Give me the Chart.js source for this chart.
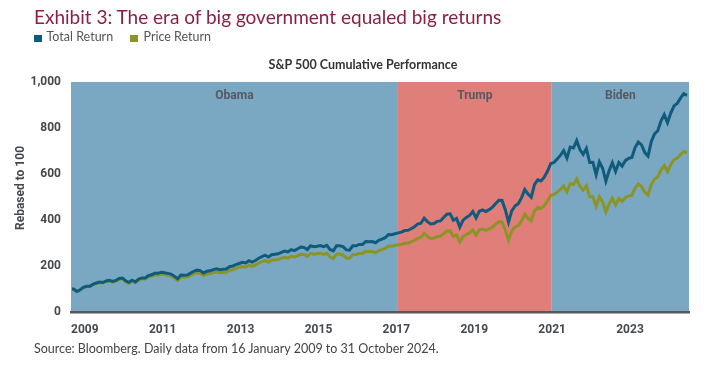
<!DOCTYPE html>
<html>
<head>
<meta charset="utf-8">
<script src="https://cdn.jsdelivr.net/npm/chart.js@4.4.1/dist/chart.umd.min.js"></script>
<style>
  html, body { margin: 0; padding: 0; background: #ffffff; }
  #wrap { position: relative; width: 704px; height: 380px; overflow: hidden;
          font-family: 'Lato', 'Roboto', sans-serif; }
  #chart { position: absolute; left: 0; top: 0; }
  #title { position: absolute; left: 34px; top: 6.3px; font-size: 19px; line-height: 1.2;
           color: #8c1f46; white-space: nowrap; }
  .sw { position: absolute; top: 35px; width: 8px; height: 7px; }
  .lg { position: absolute; top: 29.2px; font-size: 12.5px; line-height: 1.2; color: #555; white-space: nowrap; }
  #sub { position: absolute; left: 0; width: 726px; text-align: center; top: 57px;
         font-family: 'Lato', 'Roboto', sans-serif; font-weight: bold; font-size: 12.5px; line-height: 16px; color: #333; }
  #src { position: absolute; left: 34px; top: 341px; font-size: 12.5px; line-height: 1.2; color: #444; white-space: nowrap; }
</style>
</head>
<body>
<div id="wrap">
  <canvas id="chart" width="704" height="380"></canvas>
  <div id="title">Exhibit 3: The era of big government equaled big returns</div>
  <div class="sw" style="left:34px;background:#0f5b7d"></div>
  <div class="lg" style="left:46.5px">Total Return</div>
  <div class="sw" style="left:130px;background:#8b9424"></div>
  <div class="lg" style="left:143.5px">Price Return</div>
  <div id="sub">S&amp;P 500 Cumulative Performance</div>
  <div id="src">Source: Bloomberg. Daily data from 16 January 2009 to 31 October 2024.</div>
</div>
<script>
// S&P 500, rebased to 100 on 16 Jan 2009; first point is 16 Jan 2009, then month-end values to Oct 2024
const priceReturn = [
  100,
  100, 89, 97,106,111,111,120,124,128,126,133,135,   // 2009
  130,134,142,144,132,125,134,127,138,143,143,152,   // 2010
  156,161,161,165,163,160,157,148,137,152,151,152,   // 2011
  159,166,171,169,159,165,167,171,175,171,172,173,   // 2012
  182,184,190,194,198,195,204,198,204,213,219,224,   // 2013
  216,225,227,228,233,238,234,243,239,245,251,250,   // 2014
  242,255,251,253,255,250,255,239,233,252,252,248,   // 2015
  235,234,250,250,254,254,264,263,263,258,267,271,   // 2016
  276,287,286,289,292,294,299,300,305,312,321,324,   // 2017
  342,329,320,321,328,329,341,352,353,329,335,304,   // 2018
  328,337,344,357,334,357,361,355,361,368,381,392,   // 2019
  391,358,313,353,369,376,396,424,408,396,439,455,   // 2020
  450,462,482,507,510,521,533,548,522,558,554,578,   // 2021
  547,530,549,501,501,459,501,479,435,469,495,465,   // 2022
  494,481,498,505,507,539,556,546,520,508,554,578,   // 2023
  587,618,637,610,640,662,669,685,698,692            // 2024
];
const totalReturn = [
  100,
  100, 89, 97,107,112,112,121,126,130,128,135,138,   // 2009
  133,137,146,148,136,129,138,131,143,148,148,158,   // 2010
  162,168,168,173,171,168,165,156,145,161,160,161,   // 2011
  169,177,182,180,170,177,179,184,188,184,186,187,   // 2012
  197,200,206,211,216,213,223,217,224,234,241,247,   // 2013
  239,249,251,253,259,265,261,271,267,275,282,281,   // 2014
  272,288,284,286,289,284,290,272,266,288,288,284,   // 2015
  270,269,288,288,294,294,306,305,306,301,312,317,   // 2016
  323,337,336,340,344,347,354,355,362,371,382,386,   // 2017
  408,393,383,385,394,396,411,425,427,399,407,369,   // 2018
  399,411,420,437,409,438,444,437,445,455,471,486,   // 2019
  485,445,390,440,461,471,496,532,513,499,554,575,   // 2020
  570,586,612,645,650,665,681,702,669,717,713,745,   // 2021
  706,685,711,650,651,597,653,625,569,614,649,611,   // 2022
  650,634,658,668,672,715,739,727,693,678,741,774,   // 2023
  788,831,858,823,865,896,907,930,949,942            // 2024
];
const tickYears = [2009, 2011, 2013, 2015, 2017, 2019, 2021, 2023];
const presidents = ['Obama', 'Trump', 'Biden'];
const termStart = [2009.0, 2017.41, 2021.36];
const termEnd   = [2017.41, 2021.36, 2025.0];
const termColors = ['#7aa8c2', '#e07e79', '#7aa8c2'];
const seriesNames = ['Total Return', 'Price Return'];
const seriesColors = ['#0f5b7d', '#8b9424'];

// x position (decimal year) of each observation
const xOf = i => (i === 0 ? 2009.04 : 2009 + i / 12);
const toPoints = arr => arr.map((v, i) => ({ x: xOf(i), y: v }));
const labelShift = 0.37;

const bandPlugin = {
  id: 'bands',
  beforeDraw(chart) {
    const { ctx, chartArea: a, scales: { x } } = chart;
    ctx.save();
    presidents.forEach((name, i) => {
      const x0 = Math.max(a.left, x.getPixelForValue(termStart[i]));
      const x1 = Math.min(a.right, x.getPixelForValue(termEnd[i]));
      ctx.fillStyle = termColors[i];
      ctx.fillRect(x0, a.top, x1 - x0, a.bottom - a.top);
      ctx.fillStyle = '#555a60';
      ctx.font = 'bold 12px Roboto';
      ctx.textAlign = 'center';
      ctx.textBaseline = 'middle';
      ctx.fillText(name, (x0 + x1) / 2, a.top + 14);
    });
    // y axis title
    ctx.translate(21, 188);
    ctx.rotate(-Math.PI / 2);
    ctx.fillStyle = '#45494e';
    ctx.font = 'bold 12px Roboto';
    ctx.textAlign = 'center';
    ctx.textBaseline = 'middle';
    ctx.fillText('Rebased to 100', 0, 0);
    ctx.restore();
  }
};

new Chart(document.getElementById('chart'), {
  type: 'line',
  data: {
    datasets: [
      { label: seriesNames[0], data: toPoints(totalReturn), borderColor: seriesColors[0],
        borderWidth: 3, pointRadius: 0, tension: 0, fill: false },
      { label: seriesNames[1], data: toPoints(priceReturn), borderColor: seriesColors[1],
        borderWidth: 3, pointRadius: 0, tension: 0, fill: false }
    ]
  },
  options: {
    responsive: false,
    devicePixelRatio: 1,
    animation: false,
    layout: { padding: { left: 0, right: 15, top: 82, bottom: 38 } },
    plugins: { legend: { display: false }, tooltip: { enabled: false }, title: { display: false } },
    scales: {
      x: {
        type: 'linear',
        min: 2009.014,
        max: 2024.885,
        afterFit: s => { s.height = 30; },
        afterBuildTicks: s => { s.ticks = tickYears.map(y => ({ value: y + labelShift })); },
        grid: { display: false, drawTicks: false },
        border: { display: true, color: '#55585c', width: 2.5 },
        ticks: {
          padding: 11,
          autoSkip: false,
          maxRotation: 0,
          color: '#45494e',
          font: { family: 'Roboto', weight: 'bold', size: 12 },
          callback: (v, i) => String(tickYears[i])
        }
      },
      y: {
        min: 0,
        max: 1000,
        afterFit: s => { s.width = 71; },
        grid: { display: false, drawTicks: false },
        border: { display: false },
        ticks: {
          stepSize: 200,
          padding: 10,
          color: '#45494e',
          font: { family: 'Roboto', weight: 'bold', size: 12 },
          callback: v => v.toLocaleString('en-US')
        }
      }
    }
  },
  plugins: [bandPlugin]
});
</script>
</body>
</html>
